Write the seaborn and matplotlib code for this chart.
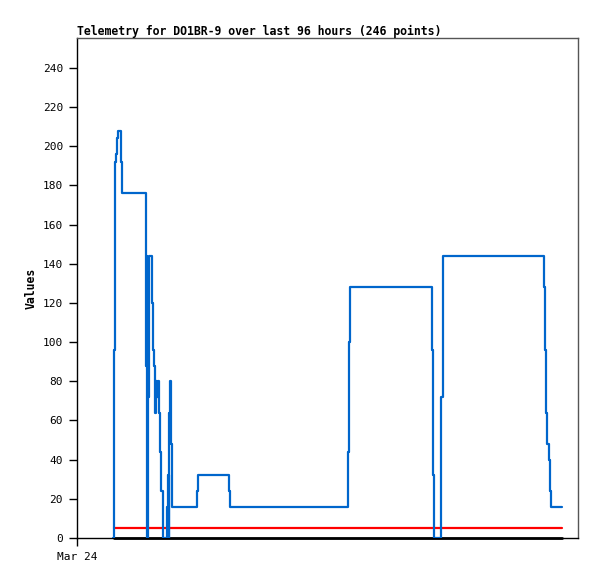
import numpy as np
import pandas as pd
import seaborn as sns
import matplotlib.pyplot as plt

# hours since Mar 24 00:00, value holds until next entry (step plot)
hours = [7.80, 7.90, 8.14, 8.36, 8.57, 8.79, 9.43, 9.64, 14.78, 14.93, 15.06, 15.21,
         15.36, 16.01, 16.22, 16.50, 16.78, 16.93, 17.14, 17.29, 17.63, 17.85, 18.06,
         18.36, 18.49, 19.35, 19.56, 19.71, 19.78, 19.99, 20.14, 20.36, 25.65, 25.86,
         32.57, 32.78, 58.00, 58.28, 58.50, 76.07, 76.28, 76.50, 78.06, 78.36, 100.06,
         100.34, 100.56, 100.77, 101.13, 101.41, 101.63, 103.92]
values = [0, 96, 192, 196, 204, 208, 192, 176, 88, 144, 0, 72,
          144, 120, 96, 88, 64, 80, 72, 80, 64, 44, 24,
          8, 0, 16, 32, 0, 64, 80, 48, 16, 24, 32,
          24, 16, 44, 100, 128, 96, 32, 0, 72, 144, 128,
          96, 64, 48, 40, 24, 16, 16]
threshold_hi = 5
threshold_lo = 0
x_ticks = [0]
x_ticklabels = ['Mar 24']
y_ticks = list(range(0, 241, 20))

df = pd.DataFrame({'hours': hours, 'value': values})
df_lim = pd.DataFrame({'hours': [hours[1], hours[-1]]})

sns.set_style('white')
plt.rcParams['font.family'] = ['DejaVu Sans Mono']
plt.rcParams['text.color'] = 'black'
plt.rcParams['axes.labelcolor'] = 'black'
plt.rcParams['xtick.color'] = 'black'
plt.rcParams['ytick.color'] = 'black'

fig = plt.figure(figsize=(5.97, 5.79), dpi=100)
ax = fig.add_axes([77 / 597, 41 / 579, 501 / 597, 500 / 579])

ax.plot(df_lim['hours'], [threshold_lo] * 2, color='black', lw=2.0, zorder=3, clip_on=False)
ax.plot(df_lim['hours'], [threshold_hi] * 2, color='#ff0000', lw=1.6, zorder=3)
sns.lineplot(data=df, x='hours', y='value', ax=ax, estimator=None, sort=False,
             drawstyle='steps-post', color='#0066cc', lw=1.6, zorder=4)

ax.set_xlim(0, 107.35)
ax.set_ylim(0, 255.3)
ax.set_xticks(x_ticks)
ax.set_xticklabels(x_ticklabels)
ax.set_yticks(y_ticks)
ax.tick_params(axis='both', direction='out', length=6, width=1, colors='black',
               labelsize=8, left=True, bottom=True, pad=4)
ax.set_xlabel('')
ax.set_ylabel('Values', fontsize=8.3, fontweight='bold', labelpad=4, color='black')
ax.set_title('Telemetry for DO1BR-9 over last 96 hours (246 points)', loc='left',
             fontsize=8.3, fontweight='bold', pad=2, color='black')

for side in ['left', 'bottom']:
    ax.spines[side].set_color('black')
    ax.spines[side].set_linewidth(1)
for side in ['top', 'right']:
    ax.spines[side].set_color('#555555')
    ax.spines[side].set_linewidth(1)

fig.savefig('out.png', dpi=100)
